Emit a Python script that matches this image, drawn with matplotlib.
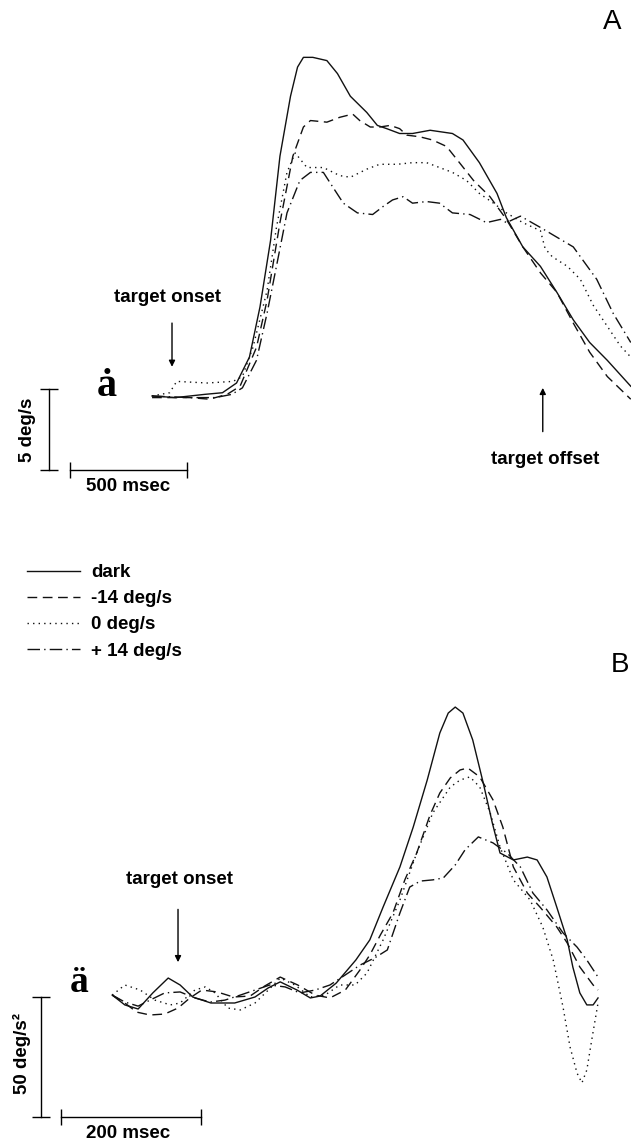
import matplotlib
matplotlib.use("Agg")
import matplotlib.pyplot as plt

plt.rcParams['font.family'] = ['Liberation Sans', 'DejaVu Sans']

# ---- Panel A: eye velocity (deg/s) vs time from target onset (ms) ----
dark_t = [-85, 15, 140, 215, 275, 330, 375, 420, 460, 505, 535, 560, 600, 660, 705, 760, 830,
          875, 915, 970, 1025, 1100, 1195, 1240, 1310, 1385, 1425, 1495, 1570, 1640, 1710,
          1780, 1855, 1955]
dark_v = [0.0, -0.1, 0.1, 0.2, 0.8, 2.4, 5.5, 9.6, 14.8, 18.5, 20.3, 20.9, 20.9, 20.7, 19.9,
          18.5, 17.5, 16.7, 16.5, 16.2, 16.2, 16.4, 16.2, 15.8, 14.4, 12.5, 11.0, 9.2, 8.0,
          6.4, 4.7, 3.3, 2.2, 0.6]

neg14_t = [-85, 75, 160, 235, 290, 360, 405, 460, 515, 560, 590, 660, 715, 770, 800, 845, 885,
           930, 970, 1000, 1055, 1110, 1170, 1225, 1285, 1355, 1425, 1495, 1570, 1640, 1710,
           1780, 1855, 1955]
neg14_v = [-0.1, -0.1, -0.2, 0.1, 0.6, 3.0, 5.9, 10.7, 14.8, 16.6, 17.0, 16.9, 17.2, 17.4,
           17.0, 16.6, 16.6, 16.7, 16.5, 16.1, 16.0, 15.8, 15.4, 14.4, 13.3, 12.3, 10.9, 9.2,
           7.6, 6.4, 4.5, 2.7, 1.2, -0.2]

zero_t = [-85, -10, 20, 150, 260, 300, 345, 405, 445, 490, 525, 575, 645, 715, 760, 830, 885,
          960, 1025, 1085, 1140, 1195, 1255, 1310, 1370, 1425, 1495, 1570, 1590, 1620, 1685,
          1740, 1795, 1855, 1910, 1955]
zero_v = [0.0, 0.2, 0.9, 0.8, 0.9, 1.2, 3.0, 6.5, 10.4, 13.8, 15.0, 14.1, 14.1, 13.6, 13.5,
          14.0, 14.3, 14.3, 14.4, 14.4, 14.1, 13.8, 13.3, 12.5, 11.9, 11.3, 10.7, 10.2, 9.1,
          8.6, 8.0, 7.2, 5.6, 4.3, 3.1, 2.4]

pos14_t = [-85, 75, 185, 255, 300, 360, 405, 445, 490, 545, 590, 645, 685, 730, 790, 855, 900,
           940, 985, 1025, 1085, 1140, 1195, 1270, 1340, 1400, 1425, 1485, 1570, 1640, 1710,
           1750, 1810, 1880, 1955]
pos14_v = [0.0, -0.1, -0.1, 0.1, 0.5, 2.2, 5.1, 8.0, 11.3, 13.3, 13.8, 13.8, 12.9, 11.9, 11.3,
           11.2, 11.7, 12.1, 12.3, 11.9, 12.0, 11.9, 11.3, 11.2, 10.7, 10.9, 10.7, 11.1, 10.4,
           9.8, 9.2, 8.4, 7.2, 5.1, 3.3]

# ---- Panel B: eye acceleration (deg/s^2) vs time from target onset (ms) ----
dark_bt = [-94, -76, -57, -36, -14, 3, 21, 47, 81, 110, 129, 146, 170, 189, 203, 226, 254, 274,
           293, 317, 336, 356, 374, 386, 396, 407, 421, 436, 449, 460, 479, 499, 513, 527, 541,
           556, 564, 574, 584, 593, 600]
dark_a = [0.8, -3.3, -5.0, 1.7, 7.9, 5.0, 0.0, -2.5, -2.5, 0.0, 3.8, 6.3, 2.9, -0.4, 0.4, 5.8,
          15.4, 23.8, 37.5, 54.2, 70.8, 90.4, 110.0, 118.3, 120.8, 118.3, 107.1, 89.2, 72.5,
          60.0, 57.1, 58.3, 57.1, 50.0, 37.5, 23.8, 12.5, 1.7, -3.3, -3.3, -0.4]

neg14_bt = [-94, -76, -59, -40, -19, 0, 17, 34, 56, 79, 103, 124, 146, 171, 196, 217, 239, 260,
            274, 289, 307, 324, 341, 360, 374, 389, 403, 414, 431, 450, 464, 479, 499, 517,
            541, 556, 574, 593, 600]
neg14_a = [0.8, -2.5, -6.3, -7.5, -7.1, -4.6, -0.4, 2.9, 2.1, 0.0, 0.4, 4.6, 8.3, 5.0, 0.8,
           -0.4, 2.9, 11.3, 17.5, 25.8, 35.0, 48.8, 60.0, 75.8, 85.0, 91.3, 94.6, 95.4, 91.7,
           82.1, 70.8, 54.2, 43.3, 37.5, 29.2, 22.5, 12.5, 5.0, 2.9]

zero_bt = [-94, -76, -54, -33, -11, 3, 24, 39, 53, 71, 89, 110, 129, 146, 167, 189, 210, 231,
           253, 270, 293, 317, 341, 364, 389, 403, 417, 431, 446, 460, 479, 503, 521, 536, 550,
           560, 570, 577, 584, 591, 600]
zero_a = [0.8, 5.0, 2.9, -1.3, -3.3, -2.5, 2.9, 4.2, 1.7, -4.6, -5.4, -2.5, 2.9, 7.9, 5.0, 0.0,
          0.8, 5.0, 5.0, 10.0, 23.8, 40.4, 60.0, 76.7, 87.5, 90.4, 91.7, 87.5, 76.7, 62.5, 48.8,
          40.4, 29.2, 15.4, -4.2, -20.8, -31.7, -35.8, -30.4, -17.9, -2.5]

pos14_bt = [-94, -76, -57, -40, -19, 3, 24, 46, 67, 89, 110, 131, 153, 174, 196, 217, 239, 260,
            281, 299, 317, 331, 346, 364, 379, 396, 410, 429, 450, 470, 489, 507, 527, 550, 570,
            584, 600]
pos14_a = [0.8, -2.1, -3.8, -1.3, 1.7, 2.1, -0.4, -2.1, -1.3, 0.8, 2.9, 5.0, 4.2, 1.7, 2.9, 5.0,
           9.2, 13.3, 16.3, 19.6, 35.0, 45.8, 48.3, 48.8, 49.6, 55.0, 61.3, 66.7, 64.2, 60.0,
           54.2, 43.3, 36.3, 26.7, 20.8, 15.4, 8.3]

labels = ['dark', '-14 deg/s', '0 deg/s', '+ 14 deg/s']
styles = ['-', (0, (7, 4)), (0, (1, 3)), (0, (9, 3, 1, 3))]
TARGET_OFFSET_MS = 1580

W, H = 631, 1144


def fx(px):
    return px / W


def fy(py):
    return 1 - py / H


fig = plt.figure(figsize=(W / 100, H / 100), dpi=100)

# both panels share the full canvas; limits set so that the scales match the print
ax_a = fig.add_axes([0, 0, 1, 1])
ax_a.set_xlim(-733, 1956)
ax_a.set_ylim(-46.17, 24.44)
ax_a.axis('off')

ax_b = fig.add_axes([0, 0, 1, 1])
ax_b.set_xlim(-254.3, 647.1)
ax_b.set_ylim(-61.25, 415.4)
ax_b.axis('off')
ax_b.patch.set_alpha(0)

lw = 1.0
handles = []
for (t, v), ls in zip([(dark_t, dark_v), (neg14_t, neg14_v), (zero_t, zero_v), (pos14_t, pos14_v)], styles):
    h, = ax_a.plot(t, v, color='#111111', lw=lw, linestyle=ls)
    handles.append(h)

for (t, a), ls in zip([(dark_bt, dark_a), (neg14_bt, neg14_a), (zero_bt, zero_a), (pos14_bt, pos14_a)], styles):
    ax_b.plot(t, a, color='#111111', lw=lw, linestyle=ls)

# scale bars
ax_a.plot([-524, -524], [0.43, -4.57], color='k', lw=1, marker='_', markersize=13, mew=1)
ax_a.plot([-435, 65], [-4.57, -4.57], color='k', lw=1, marker='|', markersize=12, mew=1)
ax_b.plot([-196, -196], [0, -50], color='k', lw=1, marker='_', markersize=13, mew=1)
ax_b.plot([-167, 33], [-50, -50], color='k', lw=1, marker='|', markersize=12, mew=1)

arrow = dict(arrowstyle='-|>', color='k', lw=1, mutation_scale=9, shrinkA=0, shrinkB=0)
ax_a.annotate('', xy=(0, 1.8), xytext=(0, 4.5), arrowprops=arrow)
ax_a.annotate('', xy=(TARGET_OFFSET_MS, 0.5), xytext=(TARGET_OFFSET_MS, -2.2), arrowprops=arrow)
ax_b.annotate('', xy=(0, 14.5), xytext=(0, 36.5), arrowprops=arrow)

fs = 13.5
bold = dict(fontsize=fs, fontweight='bold', ha='center', va='center')
fig.text(fx(168), fy(297), 'target onset', **bold)
fig.text(fx(545), fy(460), 'target offset', **bold)
fig.text(fx(128), fy(487), '500 msec', **bold)
fig.text(fx(27), fy(430), '5 deg/s', rotation=90, **bold)
fig.text(fx(179), fy(880), 'target onset', **bold)
fig.text(fx(128), fy(1133), '200 msec', **bold)
fig.text(fx(22), fy(1053), '50 deg/s²', rotation=90, **bold)

fig.text(fx(612), fy(22), 'A', fontsize=20, ha='center', va='center')
fig.text(fx(620), fy(665), 'B', fontsize=20, ha='center', va='center')

serif = ['Liberation Serif', 'DejaVu Serif']
fig.text(fx(107), fy(396), 'ȧ', family=serif, fontsize=29, fontweight='bold', ha='center', va='baseline')
fig.text(fx(79), fy(992), 'ä', family=serif, fontsize=27, fontweight='bold', ha='center', va='baseline')

fig.legend(handles, labels, loc='upper left', bbox_to_anchor=(fx(27), fy(564)),
           frameon=False, borderpad=0, borderaxespad=0, handlelength=2.8,
           handletextpad=0.6, labelspacing=0.48,
           prop=dict(size=fs, weight='bold'))

fig.savefig('out.png', dpi=100)
